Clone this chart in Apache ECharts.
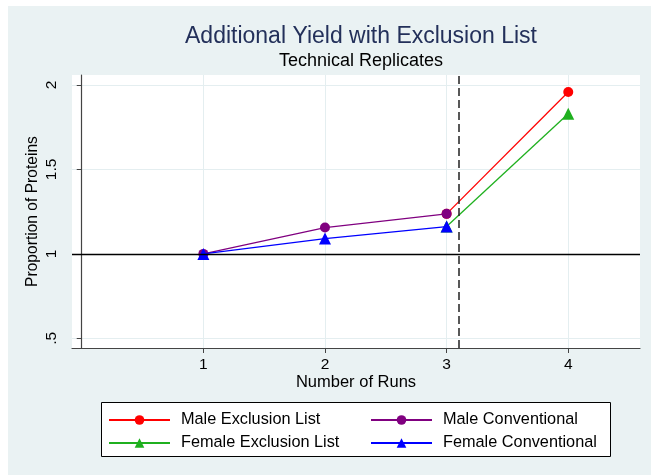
<!DOCTYPE html>
<html>
<head>
<meta charset="utf-8">
<script src="https://cdn.jsdelivr.net/npm/echarts@6/dist/echarts.min.js"></script>
<style>
  html, body { margin: 0; padding: 0; background: #ffffff; }
  #backdrop { position: absolute; left: 8px; top: 6px; width: 643px; height: 469px; background: #eaf2f3; }
  #chart { position: absolute; left: 0; top: 0; width: 651px; height: 475px; }
</style>
</head>
<body>
<div id="backdrop"></div>
<div id="chart"></div>
<script>
// Number of runs on the x axis
const runs = [1, 2, 3, 4];
// Proportion of proteins relative to a single run
const maleExclusion   = [null, null, 1.237, 1.958];
const femaleExclusion = [null, null, 1.162, 1.830];
const maleConventional   = [1.0, 1.156, 1.237, null];
const femaleConventional = [1.0, 1.091, 1.162, null];

const yTicks = [0.5, 1, 1.5, 2];
const yTickText = ['.5', '1', '1.5', '2'];
const xTicks = [1, 2, 3, 4];
const refRun = 3.1;     // dashed marker between conventional and exclusion runs
const baseline = 1;     // ratio of 1

const pairs = (vals) => runs.map((r, i) => [r, vals[i]]);

const FONT = 'Liberation Sans, Arial, Helvetica, sans-serif';
const chart = echarts.init(document.getElementById('chart'), null, { renderer: 'canvas' });

function lineSeries(name, vals, color, symbol, size, z) {
  return {
    name, type: 'line', data: pairs(vals),
    symbol, symbolSize: size, z,
    itemStyle: { color },
    lineStyle: { color, width: 1.3 },
    emphasis: { disabled: true },
    animation: false
  };
}

const legendCommon = {
  orient: 'vertical', itemWidth: 61, itemHeight: 12, itemGap: 7,
  textStyle: { fontFamily: FONT, fontSize: 16.3, color: '#000', padding: [0, 0, 0, 6] },
  selectedMode: false, z: 5
};

const series = [
  lineSeries('Male Exclusion List', maleExclusion, '#ff0000', 'circle', 10, 2),
  lineSeries('Female Exclusion List', femaleExclusion, '#1fb01f', 'triangle', 12, 2),
  lineSeries('Male Conventional', maleConventional, '#800080', 'circle', 10, 3),
  lineSeries('Female Conventional', femaleConventional, '#0000ff', 'triangle', 12, 4)
];
series[0].markLine = {
  silent: true, symbol: ['none', 'none'], label: { show: false }, animation: false,
  data: [
    { yAxis: baseline, lineStyle: { color: '#000', width: 1.3, type: 'solid' } },
    { xAxis: refRun, lineStyle: { color: '#222', width: 1.5, type: [8, 4] } }
  ]
};

chart.setOption({
  animation: false,
  title: [
    { text: 'Additional Yield with Exclusion List', left: 356, top: 20, textAlign: 'center',
      textStyle: { fontFamily: FONT, fontSize: 23, fontWeight: 'normal', color: '#23305a', lineHeight: 23 } },
    { text: 'Technical Replicates', left: 356, top: 47, textAlign: 'center',
      textStyle: { fontFamily: FONT, fontSize: 18, fontWeight: 'normal', color: '#000', lineHeight: 18 } }
  ],
  grid: { left: 72, top: 75, right: 11, bottom: 127, show: true, backgroundColor: '#ffffff', borderWidth: 0 },
  xAxis: {
    type: 'value', min: -0.08, max: 4.59,
    name: 'Number of Runs', nameLocation: 'middle', nameGap: 26, nameMoveOverlap: false,
    nameTextStyle: { fontFamily: FONT, fontSize: 16.5, color: '#000' },
    axisLine: { lineStyle: { color: '#444', width: 1.2 } },
    axisTick: { show: true, length: 5, customValues: xTicks, lineStyle: { color: '#444' } },
    axisLabel: { customValues: xTicks, margin: 9, fontFamily: FONT, fontSize: 15.5, color: '#000' },
    splitLine: { show: true, lineStyle: { color: '#e4eef0', width: 1 } }
  },
  yAxis: {
    type: 'value', min: 0.443, max: 2.059,
    name: 'Proportion of Proteins', nameLocation: 'middle', nameGap: 31, nameRotate: 90, nameMoveOverlap: false,
    nameTextStyle: { fontFamily: FONT, fontSize: 15.6, color: '#000' },
    axisLine: { show: true, lineStyle: { color: '#444', width: 1.2 } },
    axisTick: { show: true, length: 5, customValues: yTicks, lineStyle: { color: '#444' } },
    axisLabel: {
      customValues: yTicks, rotate: 90, margin: 12, fontFamily: FONT, fontSize: 15.5, color: '#000',
      formatter: (v) => yTickText[yTicks.indexOf(v)] ?? ''
    },
    splitLine: { show: true, lineStyle: { color: '#e4eef0', width: 1 } }
  },
  legend: [
    Object.assign({ left: 103, top: 407, data: ['Male Exclusion List', 'Female Exclusion List'] }, legendCommon),
    Object.assign({ left: 365, top: 407, data: ['Male Conventional', 'Female Conventional'] }, legendCommon)
  ],
  graphic: [
    { type: 'rect', left: 101, top: 402, z: 1, shape: { width: 509, height: 54 },
      style: { fill: '#ffffff', stroke: '#000', lineWidth: 1 } }
  ],
  series
});
</script>
</body>
</html>
